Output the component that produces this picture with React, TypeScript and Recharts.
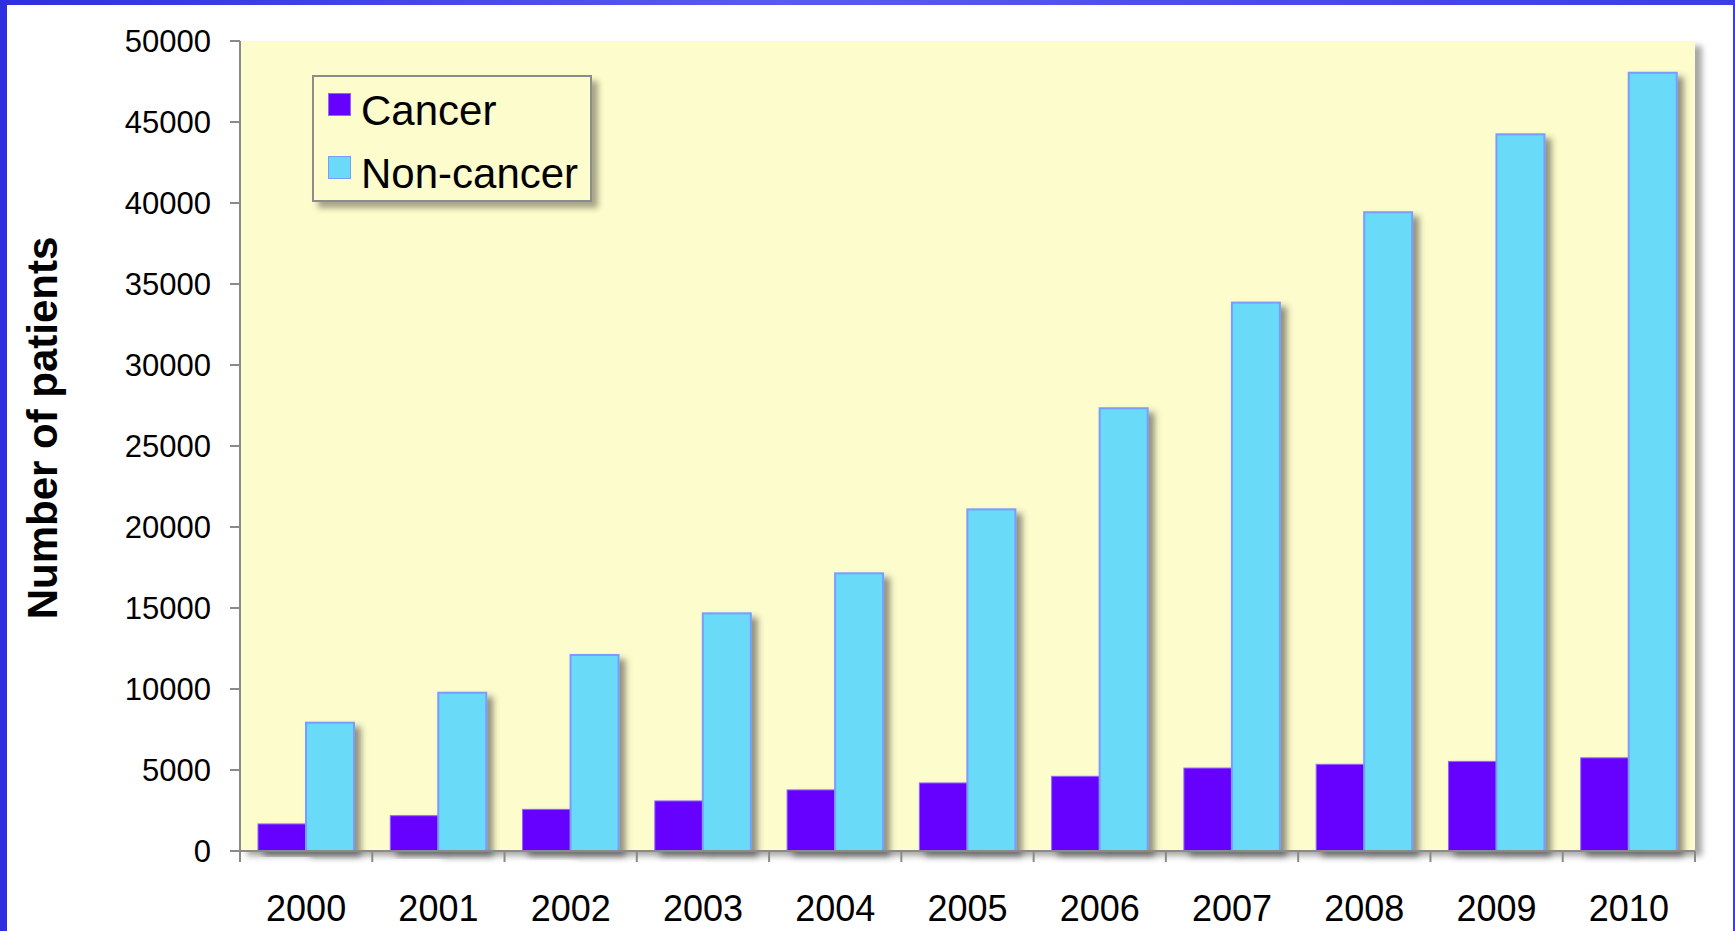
import { BarChart, Bar, XAxis, YAxis, Legend } from 'recharts';

// values, number of patients per year
const YEARS = ['2000', '2001', '2002', '2003', '2004', '2005', '2006', '2007', '2008', '2009', '2010'];
const CANCER = [1670, 2180, 2570, 3090, 3770, 4200, 4610, 5120, 5350, 5530, 5750];
const NON_CANCER = [7920, 9770, 12100, 14670, 17140, 21090, 27330, 33850, 39430, 44240, 48040];
const Y_TICKS = [0, 5000, 10000, 15000, 20000, 25000, 30000, 35000, 40000, 45000, 50000];

const W = 1735;
const H = 931;
const MARGIN = { top: 41, right: 40, bottom: 0, left: 0 };
const Y_AXIS_W = 240;
const X_AXIS_H = 80;
const PLOT_W = W - MARGIN.left - MARGIN.right - Y_AXIS_W;
const PLOT_H = H - MARGIN.top - MARGIN.bottom - X_AXIS_H;
const BAND = PLOT_W / YEARS.length;

const FONT = '"Liberation Sans", Arial, Helvetica, sans-serif';
const AXIS_GREY = '#8a8a8a';
const PLOT_BG = '#fdfccc';

const COLORS = {
  cancer: '#6600ff',
  cancerEdge: '#8f66ff',
  nonCancer: '#6bdaf9',
  nonCancerEdge: '#7a9cff',
};

const data = YEARS.map((year, i) => ({
  year,
  cancer: CANCER[i],
  nonCancer: NON_CANCER[i],
}));

const ShadowBar = (p: any) => (
  <rect
    x={p.x}
    y={p.y}
    width={p.width}
    height={p.height}
    fill={p.fill}
    stroke={p.stroke}
    strokeWidth={p.strokeWidth}
    filter="url(#barShadow)"
  />
);

// category ticks sit on the band boundaries, label in the middle
const YearTick = (p: any) => {
  const { x, y, payload, index } = p;
  const axisY = y - 44;
  const left = x - BAND / 2;
  return (
    <g>
      <line x1={left} x2={left} y1={axisY} y2={axisY + 11} stroke={AXIS_GREY} strokeWidth={2} />
      {index === YEARS.length - 1 && (
        <line x1={x + BAND / 2} x2={x + BAND / 2} y1={axisY} y2={axisY + 11} stroke={AXIS_GREY} strokeWidth={2} />
      )}
      <text x={x} y={y + 26} textAnchor="middle" fill="#000" fontSize={36} fontFamily={FONT}>
        {payload.value}
      </text>
    </g>
  );
};

const LegendBox = (props: any) => {
  const items = props.payload ?? [];
  return (
    <div
      style={{
        width: 276,
        height: 123,
        background: PLOT_BG,
        border: '2px solid #8c8c8c',
        boxShadow: '6px 6px 6px rgba(0,0,0,0.35)',
        fontFamily: FONT,
        fontSize: 42,
        color: '#000',
        position: 'relative',
      }}
    >
      {items.map((it: any, i: number) => (
        <div
          key={it.value}
          style={{ position: 'absolute', left: 14, top: 6 + i * 63, display: 'flex', alignItems: 'center', height: 56 }}
        >
          <span
            style={{
              display: 'inline-block',
              width: 21,
              height: 21,
              marginTop: -14,
              background: it.color,
              border: `1.5px solid ${i === 0 ? COLORS.cancerEdge : COLORS.nonCancerEdge}`,
              marginRight: 10,
            }}
          />
          <span style={{ lineHeight: 1 }}>{it.value}</span>
        </div>
      ))}
    </div>
  );
};

export default function App() {
  return (
    <div
      style={{
        position: 'absolute',
        left: 0,
        top: 0,
        width: W,
        height: H,
        background: 'linear-gradient(to right, #2f2fe2, #5a5af2 45%, #3c3ce8)',
        fontFamily: FONT,
      }}
    >
      <div style={{ position: 'absolute', left: 7, top: 5, right: 2, bottom: 0, background: '#fff' }} />
      {/* plot background with its shadow */}
      <div
        style={{
          position: 'absolute',
          left: MARGIN.left + Y_AXIS_W,
          top: MARGIN.top,
          width: PLOT_W,
          height: PLOT_H,
          background: PLOT_BG,
          boxShadow: '7px 5px 6px rgba(0,0,0,0.35)',
        }}
      />
      <div style={{ position: 'absolute', left: 0, top: 0 }}>
        <BarChart width={W} height={H} data={data} margin={MARGIN} barCategoryGap={18} barGap={0}>
          <defs>
            <filter id="barShadow" x="-20%" y="-10%" width="150%" height="130%">
              <feDropShadow dx="6" dy="5" stdDeviation="3" floodColor="#3a3a3a" floodOpacity="0.55" />
            </filter>
          </defs>
          <XAxis
            dataKey="year"
            height={X_AXIS_H}
            axisLine={{ stroke: AXIS_GREY, strokeWidth: 2 }}
            tickLine={false}
            tickSize={11}
            tickMargin={33}
            interval={0}
            tick={<YearTick />}
          />
          <YAxis
            width={Y_AXIS_W}
            domain={[0, 50000]}
            ticks={Y_TICKS}
            interval={0}
            axisLine={{ stroke: AXIS_GREY, strokeWidth: 2 }}
            tickLine={{ stroke: AXIS_GREY, strokeWidth: 2 }}
            tickSize={10}
            tickMargin={19}
            tick={{ fill: '#000', fontSize: 31, fontFamily: FONT }}
          />
          <Legend
            layout="vertical"
            align="center"
            verticalAlign="middle"
            wrapperStyle={{ left: 312, top: 75, width: 280, height: 127 }}
            content={<LegendBox />}
          />
          <Bar
            dataKey="cancer"
            name="Cancer"
            fill={COLORS.cancer}
            stroke={COLORS.cancerEdge}
            strokeWidth={1}
            shape={<ShadowBar />}
            isAnimationActive={false}
          />
          <Bar
            dataKey="nonCancer"
            name="Non-cancer"
            fill={COLORS.nonCancer}
            stroke={COLORS.nonCancerEdge}
            strokeWidth={2}
            shape={<ShadowBar />}
            isAnimationActive={false}
          />
          <text
            transform="translate(57, 428) rotate(-90)"
            textAnchor="middle"
            fontSize={42}
            fontWeight="bold"
            fontFamily={FONT}
            fill="#000"
          >
            Number of patients
          </text>
        </BarChart>
      </div>
    </div>
  );
}
